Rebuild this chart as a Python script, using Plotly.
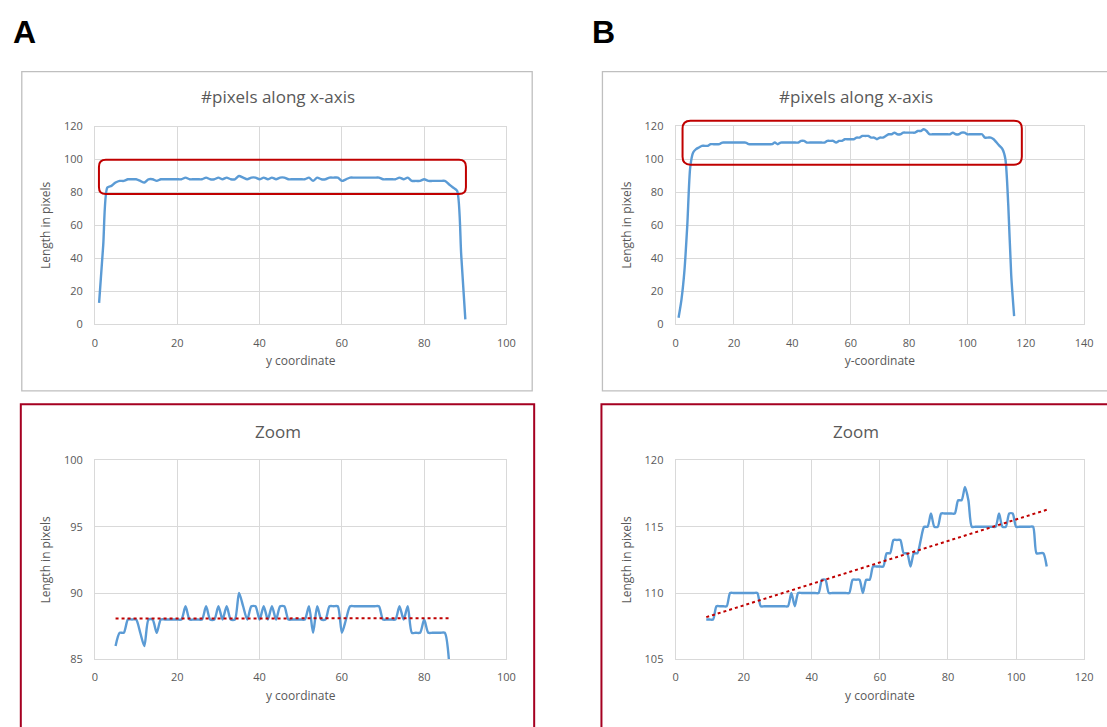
import numpy as np
import plotly.graph_objects as go

W, H = 1107, 727

# ---------------- data ----------------
# Panel A: zoomed series (y coordinate 5..86)
a_zoom_x = list(range(5, 87))
a_zoom_y = [86, 87, 87, 88, 88, 88, 87, 86, 88, 88, 87, 88, 88, 88, 88, 88, 88, 89, 88, 88,
            88, 88, 89, 88, 88, 89, 88, 89, 88, 88, 90, 89, 88, 89, 89, 88, 89, 88, 89, 88,
            89, 89, 88, 88, 88, 88, 88, 89, 87, 89, 88, 88, 89, 89, 89, 87, 88, 89, 89, 89,
            89, 89, 89, 89, 89, 88, 88, 88, 88, 89, 88, 89, 87, 87, 87, 88, 87, 87, 87, 87,
            87, 85]
a_head_x = [1, 2, 3, 4]
a_head_y = [13, 48, 83, 84]
a_tail_x = [87, 88, 89, 90]
a_tail_y = [83, 81, 42, 3]

# Panel B: zoomed series (y coordinate 9..109)
b_zoom_x = list(range(9, 110))
b_zoom_y = [108, 108, 108,
            109, 109, 109, 109,
            110, 110, 110, 110, 110, 110, 110, 110, 110,
            109, 109, 109, 109, 109, 109, 109, 109, 109,
            110, 109,
            110, 110, 110, 110, 110, 110, 110,
            111, 111,
            110, 110, 110, 110, 110, 110, 110,
            111, 111, 111,
            110,
            111, 111,
            112, 112, 112, 112,
            113, 113,
            114, 114, 114,
            113, 113,
            112,
            113, 113,
            114,
            115, 115,
            116, 115, 115, 116,
            116, 116, 116, 116,
            117, 117,
            118, 117,
            115, 115, 115, 115, 115, 115, 115, 115,
            116, 115, 115, 116, 116,
            115, 115, 115, 115, 115, 115,
            113, 113, 113,
            112]
b_head_x = [1, 2, 3, 4, 5, 6, 7, 8]
b_head_y = [4, 15, 32, 60, 95, 104, 106, 107]
b_tail_x = [110, 111, 112, 113, 114, 115, 116]
b_tail_y = [110, 108, 106, 100, 72, 30, 5]

a_full_x = a_head_x + a_zoom_x + a_tail_x
a_full_y = a_head_y + a_zoom_y + a_tail_y
b_full_x = b_head_x + b_zoom_x + b_tail_x
b_full_y = b_head_y + b_zoom_y + b_tail_y

# linear trendlines (as in the spreadsheet) fitted on the zoomed data
a_fit = np.polyfit(a_zoom_x, a_zoom_y, 1)
b_fit = np.polyfit(b_zoom_x, b_zoom_y, 1)
a_trend_x = [a_zoom_x[0], a_zoom_x[-1]]
a_trend_y = list(np.polyval(a_fit, a_trend_x))
b_trend_x = [b_zoom_x[0], b_zoom_x[-1]]
b_trend_y = list(np.polyval(b_fit, b_trend_x))

# ---------------- helpers ----------------
def px(x):
    return x / W


def py(y):
    return 1 - y / H


LINE = "#5B9BD5"
GRID = "#D9D9D9"
TXT = "#595959"
RED = "#C00000"
FONT = "Open Sans, Liberation Sans, sans-serif"

fig = go.Figure()

line_kw = dict(mode="lines", line=dict(color=LINE, width=2.4, shape="spline", smoothing=0.7),
               showlegend=False, hoverinfo="skip")

fig.add_trace(go.Scatter(x=a_full_x, y=a_full_y, xaxis="x", yaxis="y", **line_kw))
fig.add_trace(go.Scatter(x=b_full_x, y=b_full_y, xaxis="x2", yaxis="y2", **line_kw))
fig.add_trace(go.Scatter(x=a_zoom_x, y=a_zoom_y, xaxis="x3", yaxis="y3", **line_kw))
fig.add_trace(go.Scatter(x=a_trend_x, y=a_trend_y, xaxis="x3", yaxis="y3", mode="lines",
                         line=dict(color=RED, width=2, dash="dot"), showlegend=False))
fig.add_trace(go.Scatter(x=b_zoom_x, y=b_zoom_y, xaxis="x4", yaxis="y4", **line_kw))
fig.add_trace(go.Scatter(x=b_trend_x, y=b_trend_y, xaxis="x4", yaxis="y4", mode="lines",
                         line=dict(color=RED, width=2, dash="dot"), showlegend=False))


def xax(x0, x1, rng, dtick, title, anchor):
    return dict(domain=[px(x0), px(x1)], range=rng, dtick=dtick, anchor=anchor,
                showgrid=True, gridcolor=GRID, gridwidth=1, zeroline=False,
                showline=True, linecolor=GRID, linewidth=1, mirror=True,
                ticks="", ticklabelstandoff=8, tickfont=dict(family=FONT, size=11, color=TXT),
                title=dict(text=title, font=dict(family=FONT, size=12, color=TXT), standoff=8),
                fixedrange=True)


def yax(y0, y1, rng, dtick, anchor):
    return dict(domain=[py(y1), py(y0)], range=rng, dtick=dtick, anchor=anchor,
                showgrid=True, gridcolor=GRID, gridwidth=1, zeroline=False,
                showline=True, linecolor=GRID, linewidth=1, mirror=True,
                ticks="", ticklabelstandoff=9, tickfont=dict(family=FONT, size=11, color=TXT),
                title=dict(text="Length in pixels", font=dict(family=FONT, size=12, color=TXT),
                           standoff=10),
                fixedrange=True)


fig.update_layout(
    width=W, height=H,
    margin=dict(l=0, r=0, t=0, b=0),
    paper_bgcolor="white", plot_bgcolor="white",
    xaxis=xax(93, 509, [0, 100], 20, "y coordinate", "y"),
    yaxis=yax(121, 323, [0, 120], 20, "x"),
    xaxis2=xax(680, 1093, [0, 140], 20, "y-coordinate", "y2"),
    yaxis2=yax(120.5, 323, [0, 120], 20, "x2"),
    xaxis3=xax(93, 509, [0, 100], 20, "y coordinate", "y3"),
    yaxis3=yax(462, 665, [85, 100], 5, "x3"),
    xaxis4=xax(680, 1093, [0, 120], 20, "y coordinate", "y4"),
    yaxis4=yax(462, 665, [105, 120], 5, "x4"),
)

shapes = []
# chart frames
shapes.append(dict(type="rect", xref="paper", yref="paper", x0=px(19), x1=px(535), y0=py(391), y1=py(65),
                   line=dict(color="#BFBFBF", width=1.3), layer="below"))
shapes.append(dict(type="rect", xref="paper", yref="paper", x0=px(606), x1=px(1130), y0=py(391), y1=py(65),
                   line=dict(color="#BFBFBF", width=1.3), layer="below"))
shapes.append(dict(type="rect", xref="paper", yref="paper", x0=px(18), x1=px(537), y0=py(760), y1=py(404.5),
                   line=dict(color="#A50021", width=2), layer="below"))
shapes.append(dict(type="rect", xref="paper", yref="paper", x0=px(605), x1=px(1130), y0=py(760), y1=py(404.5),
                   line=dict(color="#A50021", width=2), layer="below"))


def rounded(x0, y0, x1, y1, r):
    pts = (f"M {px(x0 + r)},{py(y0)} L {px(x1 - r)},{py(y0)} Q {px(x1)},{py(y0)} {px(x1)},{py(y0 + r)} "
           f"L {px(x1)},{py(y1 - r)} Q {px(x1)},{py(y1)} {px(x1 - r)},{py(y1)} "
           f"L {px(x0 + r)},{py(y1)} Q {px(x0)},{py(y1)} {px(x0)},{py(y1 - r)} "
           f"L {px(x0)},{py(y0 + r)} Q {px(x0)},{py(y0)} {px(x0 + r)},{py(y0)} Z")
    return dict(type="path", xref="paper", yref="paper", path=pts,
                line=dict(color=RED, width=2))


shapes.append(rounded(97, 155, 468, 190, 7))
shapes.append(rounded(687, 115, 1030, 160, 8))
fig.update_layout(shapes=shapes)

ann = []
for text, x, y in [("#pixels along x-axis", 278, 90), ("#pixels along x-axis", 862, 90),
                   ("Zoom", 278, 432), ("Zoom", 862, 432)]:
    ann.append(dict(text=text, x=px(x), y=py(y), xref="paper", yref="paper", showarrow=False,
                    xanchor="center", yanchor="middle", font=dict(family=FONT, size=17, color=TXT)))
for text, x in [("A", 8), ("B", 593)]:
    ann.append(dict(text=f"<b>{text}</b>", x=px(x), y=py(25), xref="paper", yref="paper", showarrow=False,
                    xanchor="left", yanchor="middle",
                    font=dict(family="Liberation Sans, Arial, sans-serif", size=32, color="black")))
fig.update_layout(annotations=ann)

fig.write_html("out.html", config={"displayModeBar": False},
               post_script="document.body.style.margin='0';document.body.style.padding='0';"
                           "document.documentElement.style.overflow='hidden';")
